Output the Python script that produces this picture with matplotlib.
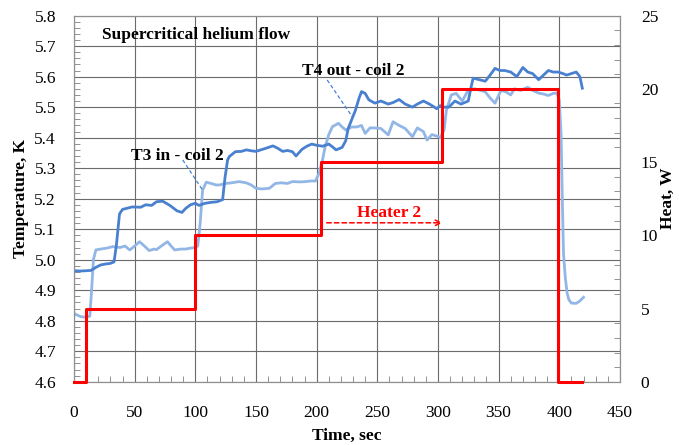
import numpy as np
import matplotlib
matplotlib.use("Agg")
import matplotlib.pyplot as plt
from matplotlib.ticker import MultipleLocator, FormatStrFormatter

# T4 out - coil 2 (darker blue)
t4_time = [0, 5, 10, 14, 18, 22, 26, 30, 33, 35, 37.5, 40, 43, 48, 55, 59, 64, 68, 73, 79,
           85, 89, 92, 96, 100, 103, 108, 113, 118, 122.5, 124.5, 126.6, 128, 133, 138, 142,
           146, 150, 154, 158, 164, 168, 172, 176, 180, 183, 188, 192, 196, 200, 205, 210,
           213, 216, 221, 224, 226, 229, 232, 235, 237, 240, 243, 248, 253, 259, 263, 268,
           273, 279, 283, 288, 293, 299, 302, 305, 309, 314, 319, 325, 327, 329, 334, 339,
           343, 347, 351, 355, 360, 365, 370, 374, 378, 383, 387, 391, 395, 399, 403, 406,
           410, 414, 417, 419]
t4_temp = [4.964, 4.963, 4.964, 4.965, 4.975, 4.983, 4.986, 4.988, 4.993, 5.05, 5.15, 5.165,
           5.168, 5.173, 5.172, 5.18, 5.178, 5.19, 5.192, 5.178, 5.16, 5.155, 5.168, 5.18,
           5.185, 5.178, 5.185, 5.188, 5.19, 5.197, 5.27, 5.327, 5.338, 5.354, 5.355, 5.36,
           5.357, 5.355, 5.36, 5.365, 5.373, 5.365, 5.355, 5.358, 5.354, 5.34, 5.362, 5.372,
           5.379, 5.375, 5.372, 5.379, 5.37, 5.36, 5.368, 5.39, 5.43, 5.46, 5.49, 5.53, 5.551,
           5.545, 5.524, 5.513, 5.52, 5.51, 5.515, 5.525, 5.51, 5.50, 5.51, 5.52, 5.51, 5.495,
           5.505, 5.50, 5.50, 5.52, 5.51, 5.52, 5.56, 5.595, 5.59, 5.585, 5.605, 5.627, 5.62,
           5.62, 5.615, 5.60, 5.63, 5.615, 5.61, 5.59, 5.605, 5.62, 5.615, 5.615, 5.61, 5.605,
           5.61, 5.615, 5.60, 5.562]

# T3 in - coil 2 (lighter blue)
t3_time = [0, 3, 6, 10, 13, 14.5, 16, 18, 22, 27, 32, 38, 42, 46, 50, 54, 58, 62, 66, 68, 72,
           77, 80, 83, 88, 92, 96, 100, 102, 104, 106, 109, 113, 117, 120, 125, 130, 136, 142,
           146, 150, 155, 161, 166, 171, 176, 180, 186, 191, 195, 199, 202, 205, 207, 210, 213,
           218, 221, 224, 229, 233, 237, 240, 244, 247, 253, 259, 263, 268, 273, 279, 283, 288,
           291, 295, 299, 302, 305, 307, 311, 315, 320, 325, 330, 335, 339, 343, 347, 352, 356,
           360, 363, 368, 374, 378, 383, 387, 391, 395, 398, 400, 401.5, 402.5, 403.5, 405,
           406.5, 408, 410, 414, 417, 420]
t3_temp = [4.824, 4.818, 4.813, 4.812, 4.815, 4.90, 5.00, 5.032, 5.035, 5.038, 5.043, 5.04,
           5.045, 5.032, 5.045, 5.059, 5.045, 5.03, 5.035, 5.033, 5.045, 5.059, 5.045, 5.032,
           5.035, 5.035, 5.038, 5.04, 5.045, 5.12, 5.228, 5.254, 5.25, 5.245, 5.245, 5.25,
           5.252, 5.256, 5.252, 5.245, 5.234, 5.232, 5.234, 5.25, 5.252, 5.25, 5.256, 5.255,
           5.256, 5.258, 5.258, 5.283, 5.33, 5.37, 5.41, 5.436, 5.447, 5.435, 5.425, 5.435,
           5.435, 5.44, 5.414, 5.432, 5.432, 5.43, 5.409, 5.452, 5.44, 5.43, 5.403, 5.432,
           5.42, 5.392, 5.41, 5.405, 5.40, 5.425, 5.49, 5.54, 5.545, 5.52, 5.556, 5.56, 5.555,
           5.55, 5.53, 5.513, 5.555, 5.55, 5.54, 5.56, 5.555, 5.565, 5.555, 5.546, 5.543,
           5.538, 5.545, 5.546, 5.525, 5.41, 5.20, 5.02, 4.94, 4.89, 4.868, 4.858, 4.857,
           4.865, 4.877]

# Heater 2 power steps
heater_time = [0, 10, 100, 204, 303, 399, 419]
heater_power = [0, 5, 10, 15, 20, 0, 0]

plt.rcParams['font.family'] = ['Liberation Serif', 'DejaVu Serif']

fig = plt.figure(figsize=(6.79, 4.45), dpi=100)
ax = fig.add_axes([0.109, 0.142, 0.804, 0.823])

ax.plot(t4_time, t4_temp, color='#4A80D0', lw=2.0, zorder=3)
ax.plot(t3_time, t3_temp, color='#92B6E6', lw=2.0, zorder=2)

ax.set_xlim(0, 450)
ax.set_ylim(4.6, 5.8)
ax.xaxis.set_major_locator(MultipleLocator(50))
ax.xaxis.set_minor_locator(MultipleLocator(10))
ax.yaxis.set_major_locator(MultipleLocator(0.1))
ax.yaxis.set_minor_locator(MultipleLocator(0.02))
ax.yaxis.set_major_formatter(FormatStrFormatter('%.1f'))
ax.grid(True, which='major', color='#6b6b6b', lw=0.8)
ax.set_axisbelow(True)
ax.tick_params(which='both', direction='in', labelsize=12.5, color='#808080')
ax.tick_params(which='major', length=0)
ax.tick_params(which='minor', length=4)
ax.tick_params(axis='x', pad=17)
ax.tick_params(axis='y', pad=13)
for s in ax.spines.values():
    s.set_color('#909090')

ax.set_xlabel('Time, sec', fontsize=12.5, fontweight='bold', labelpad=5)
ax.set_ylabel('Temperature, K', fontsize=12.5, fontweight='bold', labelpad=4)

ax2 = ax.twinx()
ax2.plot(heater_time, heater_power, color='#FF0000', lw=2.2, drawstyle='steps-post',
         clip_on=False, zorder=4)
ax2.set_ylim(0, 25)
ax2.yaxis.set_major_locator(MultipleLocator(5))
ax2.yaxis.set_minor_locator(MultipleLocator(1))
ax2.tick_params(which='both', direction='in', labelsize=12.5, color='#808080', pad=15)
ax2.tick_params(which='major', length=0)
ax2.tick_params(which='minor', length=4)
for s in ax2.spines.values():
    s.set_color('#909090')
ax2.set_ylabel('Heat, W', fontsize=12.5, fontweight='bold', rotation=90, labelpad=1)

# annotations
ax.text(23, 5.737, 'Supercritical helium flow', fontsize=12.5, fontweight='bold',
        va='center', ha='left')
ax.text(188, 5.619, 'T4 out - coil 2', fontsize=12.5, fontweight='bold', va='center', ha='left')
ax.plot([208.7, 229.3], [5.589, 5.469], color='#4A80D0', lw=0.9, ls=(0, (3, 2)))
ax.text(47, 5.341, 'T3 in - coil 2', fontsize=12.5, fontweight='bold', va='center', ha='left')
ax.plot([89.6, 106], [5.327, 5.228], color='#4A80D0', lw=0.9, ls=(0, (3, 2)))

ax.annotate('', xy=(306, 5.121), xytext=(206, 5.121),
            arrowprops=dict(arrowstyle='->', color='#FF0000', lw=1.1, ls=(0, (3, 2))))
ax.text(259.5, 5.152, 'Heater 2', fontsize=12.5, fontweight='bold', color='#FF0000',
        va='center', ha='center')

fig.savefig('out.png', dpi=100)
